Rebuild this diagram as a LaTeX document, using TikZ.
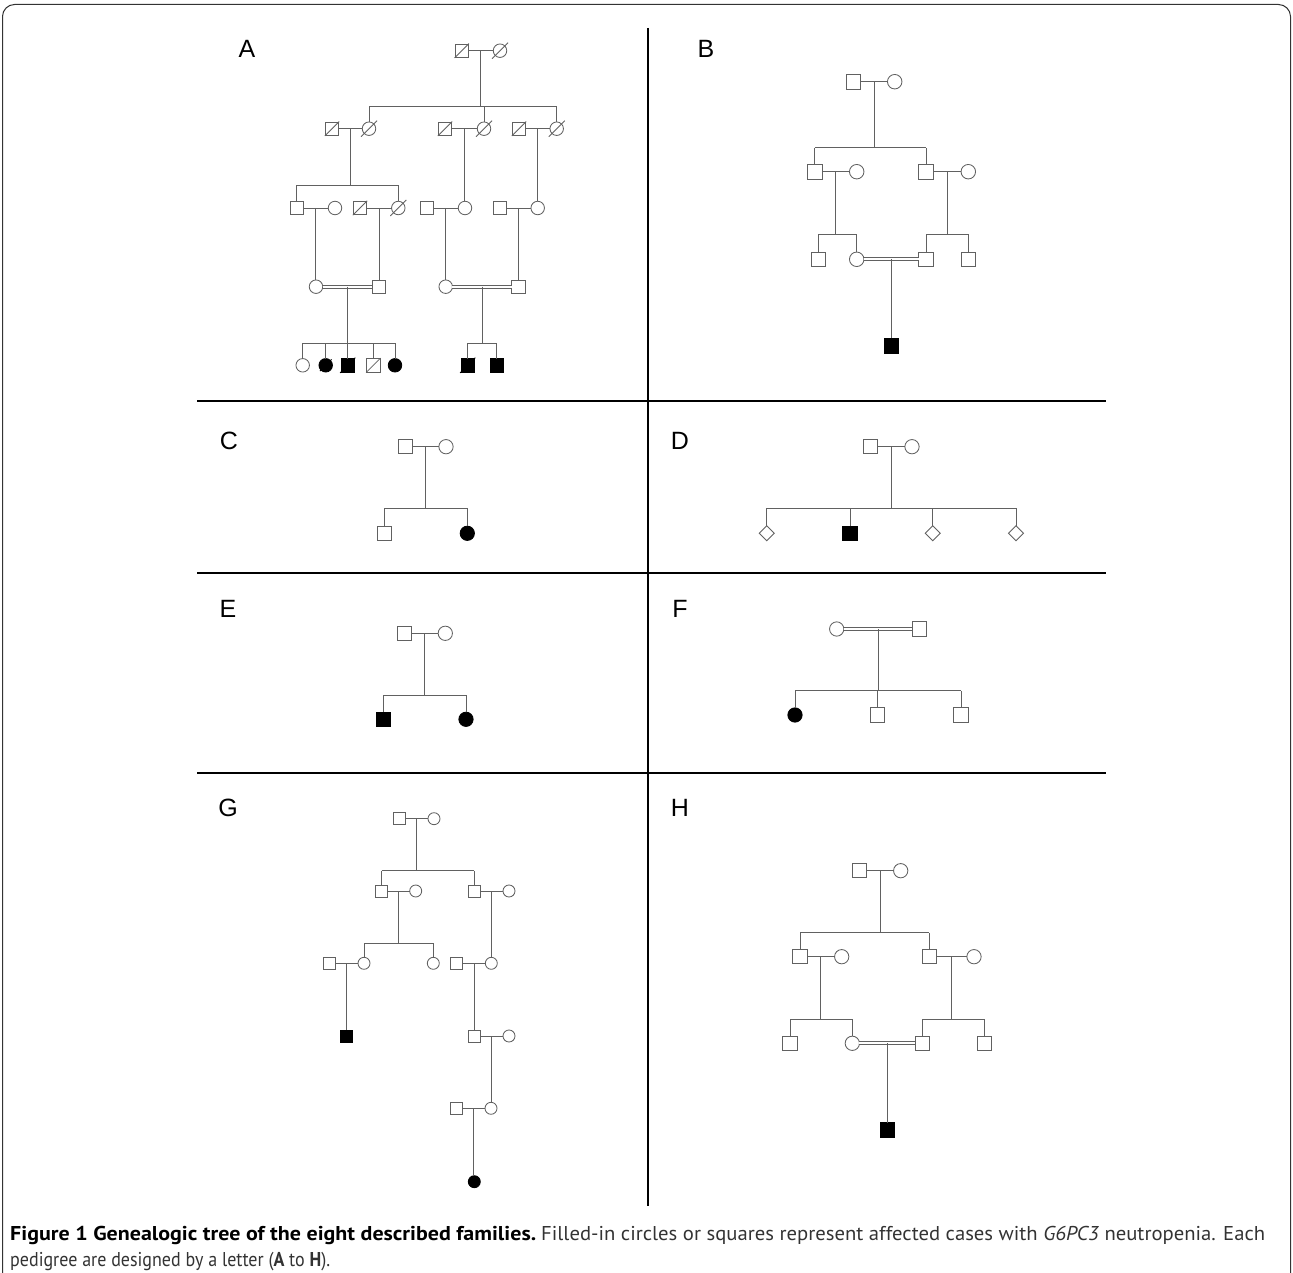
\documentclass[tikz,border=0pt]{standalone}
\usepackage{fontspec}
\setmainfont{Liberation Sans}
\newfontfamily\capfont{PT Sans}
\usepackage{graphicx}
\usetikzlibrary{shapes.geometric,calc}
\definecolor{linegray}{gray}{0.38}
\definecolor{framegray}{gray}{0.2}
\newsavebox\capboxA
\newsavebox\capboxR
\newsavebox\capboxB
\newcommand\symsz{14pt}
\tikzset{
  ln/.style={draw=linegray, line width=0.85pt},
  ind/.style={draw=linegray, line width=0.85pt, fill=white, inner sep=0pt, outer sep=0pt, minimum size=\symsz},
  sq/.style={ind, rectangle},
  ci/.style={ind, circle},
  dm/.style={ind, diamond, minimum width=15pt, minimum height=15pt},
  aff/.style={fill=black, draw=black},
  lbl/.style={inner sep=0pt, font=\fontsize{25}{30}\selectfont},
  divider/.style={draw=black, line width=1.3pt},
  captext/.style={anchor=base west, inner sep=0pt},
}
% slash through a deceased individual: optional colour, node, half length
\newcommand\dead[3][linegray]{\draw[line width=0.85pt, draw=#1] ([shift={(-#3,#3)}]#2.center) -- ([shift={(#3,-#3)}]#2.center);}
\newcommand\mate[2]{\draw[ln] (#1) -- (#2);}
\newcommand\cmate[2]{\draw[ln, double=white, double distance=2.2pt] (#1) -- (#2);}
% #1 left parent, #2 right parent, #3 level coordinate, #4 first child, #5 last child, #6 all children
\newcommand\pedfam[6]{%
  \coordinate (fm) at ($(#1)!.5!(#2)$);
  \draw[ln] (fm) -- (fm |- #3);
  \draw[ln] (#4 |- #3) -- (#5 |- #3);
  \foreach \kid in {#6} {\draw[ln] (\kid.north) -- (\kid |- #3);}
}
\newcommand\onechild[3]{%
  \coordinate (fm) at ($(#1)!.5!(#2)$);
  \draw[ln] (fm) -- (fm |- #3.north);
}
\begin{document}
\sbox\capboxA{\capfont\fontsize{20}{24}\selectfont\textbf{Figure 1 Genealogic tree of the eight described families.}}%
\sbox\capboxR{\capfont\fontsize{20}{24}\selectfont\color{black!80}Filled-in circles or squares represent affected cases with \textit{G6PC3} neutropenia. Each}%
\sbox\capboxB{\capfont\fontsize{20}{24}\selectfont\color{black!80}pedigree are designed by a letter (\textbf{A} to \textbf{H}).}%
\pgfmathsetmacro\capscA{526/\the\wd\capboxA}%
\pgfmathsetmacro\capscR{724/\the\wd\capboxR}%
\pgfmathsetmacro\capscB{320/\the\wd\capboxB}%
\begin{tikzpicture}[x=1pt,y=-1pt]
\useasboundingbox (0,0) rectangle (1293,1273);
% frame and dividers
\draw[framegray, line width=1pt, rounded corners=12pt] (2.5,1273) -- (2.5,4.5) -- (1290.5,4.5) -- (1290.5,1273);
\draw[divider] (648,28) -- (648,1206);
\draw[divider] (197,401) -- (1106,401);
\draw[divider] (197,573) -- (1106,573);
\draw[divider] (197,773) -- (1106,773);
% panel letters
\node[lbl] (LA) at (247,49) {A};
\node[lbl] (LB) at (706,49) {B};
\node[lbl] (LC) at (229,441) {C};
\node[lbl] (LD) at (680,441) {D};
\node[lbl] (LE) at (228,609) {E};
\node[lbl] (LF) at (680,609) {F};
\node[lbl] (LG) at (228,808) {G};
\node[lbl] (LH) at (680,808) {H};

% ================= Panel A =================
\begin{scope}
\renewcommand\symsz{13.5pt}
\node[sq] (A11) at (461.7,50.7) {};
\node[ci] (A12) at (500,50.7) {};
\node[sq] (A21) at (332,128.7) {};
\node[ci] (A22) at (369,128.7) {};
\node[sq] (A23) at (445,128.7) {};
\node[ci] (A24) at (484,128.7) {};
\node[sq] (A25) at (519,128.7) {};
\node[ci] (A26) at (556.7,128.7) {};
\node[sq] (A31) at (296.7,208) {};
\node[ci] (A32) at (335,208) {};
\node[sq] (A33) at (360,208) {};
\node[ci] (A34) at (398.3,208) {};
\node[sq] (A35) at (426.7,208) {};
\node[ci] (A36) at (465,208) {};
\node[sq] (A37) at (500,208) {};
\node[ci] (A38) at (537.7,208) {};
\node[ci] (A41) at (316,286.7) {};
\node[sq] (A42) at (379,286.7) {};
\node[ci] (A43) at (445.7,286.7) {};
\node[sq] (A44) at (518.3,286.7) {};
\node[ci] (A51) at (302.7,365.3) {};
\node[ci,aff] (A52) at (325.7,365.3) {};
\node[sq,aff] (A53) at (347.7,365.3) {};
\node[sq] (A54) at (373.3,365.3) {};
\node[ci,aff] (A55) at (395,365.3) {};
\node[sq,aff] (A56) at (467.7,365.3) {};
\node[sq,aff] (A57) at (496.7,365.3) {};
\coordinate (yA1) at (0,106);
\coordinate (yA2) at (0,185);
\coordinate (yA4) at (0,343.3);
\foreach \n in {A11,A21,A23,A25,A33,A54} {\dead{\n}{7.2}}
\foreach \n in {A12,A22,A24,A26,A34} {\dead{\n}{8}}
\dead[black]{A52}{5.8}
\foreach \n in {A53,A56} {\dead[black]{\n}{7.6}}
\mate{A11}{A12}
\pedfam{A11}{A12}{yA1}{A22}{A26}{A22,A24,A26}
\mate{A21}{A22}
\pedfam{A21}{A22}{yA2}{A31}{A34}{A31,A34}
\mate{A23}{A24}
\onechild{A23}{A24}{A36}
\mate{A25}{A26}
\onechild{A25}{A26}{A38}
\mate{A31}{A32}
\onechild{A31}{A32}{A41}
\mate{A33}{A34}
\onechild{A33}{A34}{A42}
\mate{A35}{A36}
\onechild{A35}{A36}{A43}
\mate{A37}{A38}
\onechild{A37}{A38}{A44}
\cmate{A41}{A42}
\pedfam{A41}{A42}{yA4}{A51}{A55}{A51,A52,A53,A54,A55}
\cmate{A43}{A44}
\pedfam{A43}{A44}{yA4}{A56}{A57}{A56,A57}
\end{scope}

% ================= Panel B =================
\begin{scope}
\renewcommand\symsz{14.5pt}
\node[sq] (B11) at (853.3,81.7) {};
\node[ci] (B12) at (894.7,81.7) {};
\node[sq] (B21) at (814.7,171.7) {};
\node[ci] (B22) at (856.7,171.7) {};
\node[sq] (B23) at (926,171.7) {};
\node[ci] (B24) at (968.3,171.7) {};
\node[sq] (B31) at (818.3,259.3) {};
\node[ci] (B32) at (856.7,259.3) {};
\node[sq] (B33) at (926,259.3) {};
\node[sq] (B34) at (968.3,259.3) {};
\node[sq,aff] (B41) at (891.3,345.7) {};
\coordinate (yB1) at (0,147.7);
\coordinate (yB2) at (0,234.3);
\mate{B11}{B12}
\pedfam{B11}{B12}{yB1}{B21}{B23}{B21,B23}
\mate{B21}{B22}
\pedfam{B21}{B22}{yB2}{B31}{B32}{B31,B32}
\mate{B23}{B24}
\pedfam{B23}{B24}{yB2}{B33}{B34}{B33,B34}
\cmate{B32}{B33}
\onechild{B32}{B33}{B41}
\end{scope}

% ================= Panel C =================
\begin{scope}
\renewcommand\symsz{14.3pt}
\node[sq] (C11) at (405.7,446.7) {};
\node[ci] (C12) at (446,446.7) {};
\node[sq] (C21) at (384.3,533.3) {};
\node[ci,aff] (C22) at (467.3,533.3) {};
\coordinate (yC1) at (0,508.3);
\mate{C11}{C12}
\pedfam{C11}{C12}{yC1}{C21}{C22}{C21,C22}
\end{scope}

% ================= Panel D =================
\begin{scope}
\renewcommand\symsz{14.3pt}
\node[sq] (D11) at (870.7,446.7) {};
\node[ci] (D12) at (912,446.7) {};
\node[dm] (D21) at (766.7,533.3) {};
\node[sq,aff] (D22) at (850,533.3) {};
\node[dm] (D23) at (932.7,533.3) {};
\node[dm] (D24) at (1016,533.3) {};
\coordinate (yD1) at (0,508.3);
\mate{D11}{D12}
\pedfam{D11}{D12}{yD1}{D21}{D24}{D21,D22,D23,D24}
\end{scope}

% ================= Panel E =================
\begin{scope}
\renewcommand\symsz{14.3pt}
\node[sq] (E11) at (404.3,633.3) {};
\node[ci] (E12) at (445.3,633.3) {};
\node[sq,aff] (E21) at (383.3,719.3) {};
\node[ci,aff] (E22) at (466,719.3) {};
\coordinate (yE1) at (0,695);
\mate{E11}{E12}
\pedfam{E11}{E12}{yE1}{E21}{E22}{E21,E22}
\end{scope}

% ================= Panel F =================
\begin{scope}
\renewcommand\symsz{14.3pt}
\node[ci] (F11) at (836.7,629) {};
\node[sq] (F12) at (919.3,629) {};
\node[ci,aff] (F21) at (795,715) {};
\node[sq] (F22) at (877.7,715) {};
\node[sq] (F23) at (961,715) {};
\coordinate (yF1) at (0,690.7);
\cmate{F11}{F12}
\pedfam{F11}{F12}{yF1}{F21}{F23}{F21,F22,F23}
\end{scope}

% ================= Panel G =================
\begin{scope}
\renewcommand\symsz{12pt}
\node[sq] (G11) at (399.3,818.7) {};
\node[ci] (G12) at (434,818.7) {};
\node[sq] (G21) at (381.7,891) {};
\node[ci] (G22) at (415.7,891) {};
\node[sq] (G23) at (474,891) {};
\node[ci] (G24) at (509,891) {};
\node[sq] (G31) at (329.3,963.3) {};
\node[ci] (G32) at (364,963.3) {};
\node[ci] (G33) at (433.3,963.3) {};
\node[sq] (G34) at (456.7,963.3) {};
\node[ci] (G35) at (491.3,963.3) {};
\node[sq,aff] (G41) at (346.7,1036) {};
\node[sq] (G42) at (474.3,1036) {};
\node[ci] (G43) at (509,1036) {};
\node[sq] (G51) at (456.7,1108.3) {};
\node[ci] (G52) at (491,1108.3) {};
\node[ci,aff] (G61) at (474.3,1181.7) {};
\coordinate (yG1) at (0,870.7);
\coordinate (yG2) at (0,943.3);
\mate{G11}{G12}
\pedfam{G11}{G12}{yG1}{G21}{G23}{G21,G23}
\mate{G21}{G22}
\pedfam{G21}{G22}{yG2}{G32}{G33}{G32,G33}
\mate{G23}{G24}
\onechild{G23}{G24}{G35}
\mate{G31}{G32}
\onechild{G31}{G32}{G41}
\mate{G34}{G35}
\onechild{G34}{G35}{G42}
\mate{G42}{G43}
\onechild{G42}{G43}{G52}
\mate{G51}{G52}
\onechild{G51}{G52}{G61}
\end{scope}

% ================= Panel H =================
\begin{scope}
\renewcommand\symsz{14.3pt}
\node[sq] (H11) at (859.3,870.7) {};
\node[ci] (H12) at (900.7,870.7) {};
\node[sq] (H21) at (800,956.7) {};
\node[ci] (H22) at (841.7,956.7) {};
\node[sq] (H23) at (929.3,956.7) {};
\node[ci] (H24) at (974,956.7) {};
\node[sq] (H31) at (790,1043.3) {};
\node[ci] (H32) at (852.3,1043.3) {};
\node[sq] (H33) at (922.3,1043.3) {};
\node[sq] (H34) at (984.3,1043.3) {};
\node[sq,aff] (H41) at (887.3,1130) {};
\coordinate (yH1) at (0,932.7);
\coordinate (yH2) at (0,1019.3);
\mate{H11}{H12}
\pedfam{H11}{H12}{yH1}{H21}{H23}{H21,H23}
\mate{H21}{H22}
\pedfam{H21}{H22}{yH2}{H31}{H32}{H31,H32}
\mate{H23}{H24}
\pedfam{H23}{H24}{yH2}{H33}{H34}{H33,H34}
\cmate{H32}{H33}
\onechild{H32}{H33}{H41}
\end{scope}

% ================= Caption =================
\node[captext] (cap1) at (10,1240) {\scalebox{\capscA}[1]{\usebox\capboxA}};
\node[captext] (cap1r) at (541,1240) {\scalebox{\capscR}[1]{\usebox\capboxR}};
\node[captext] (cap2) at (10,1266) {\scalebox{\capscB}[1]{\usebox\capboxB}};
\end{tikzpicture}
\end{document}
